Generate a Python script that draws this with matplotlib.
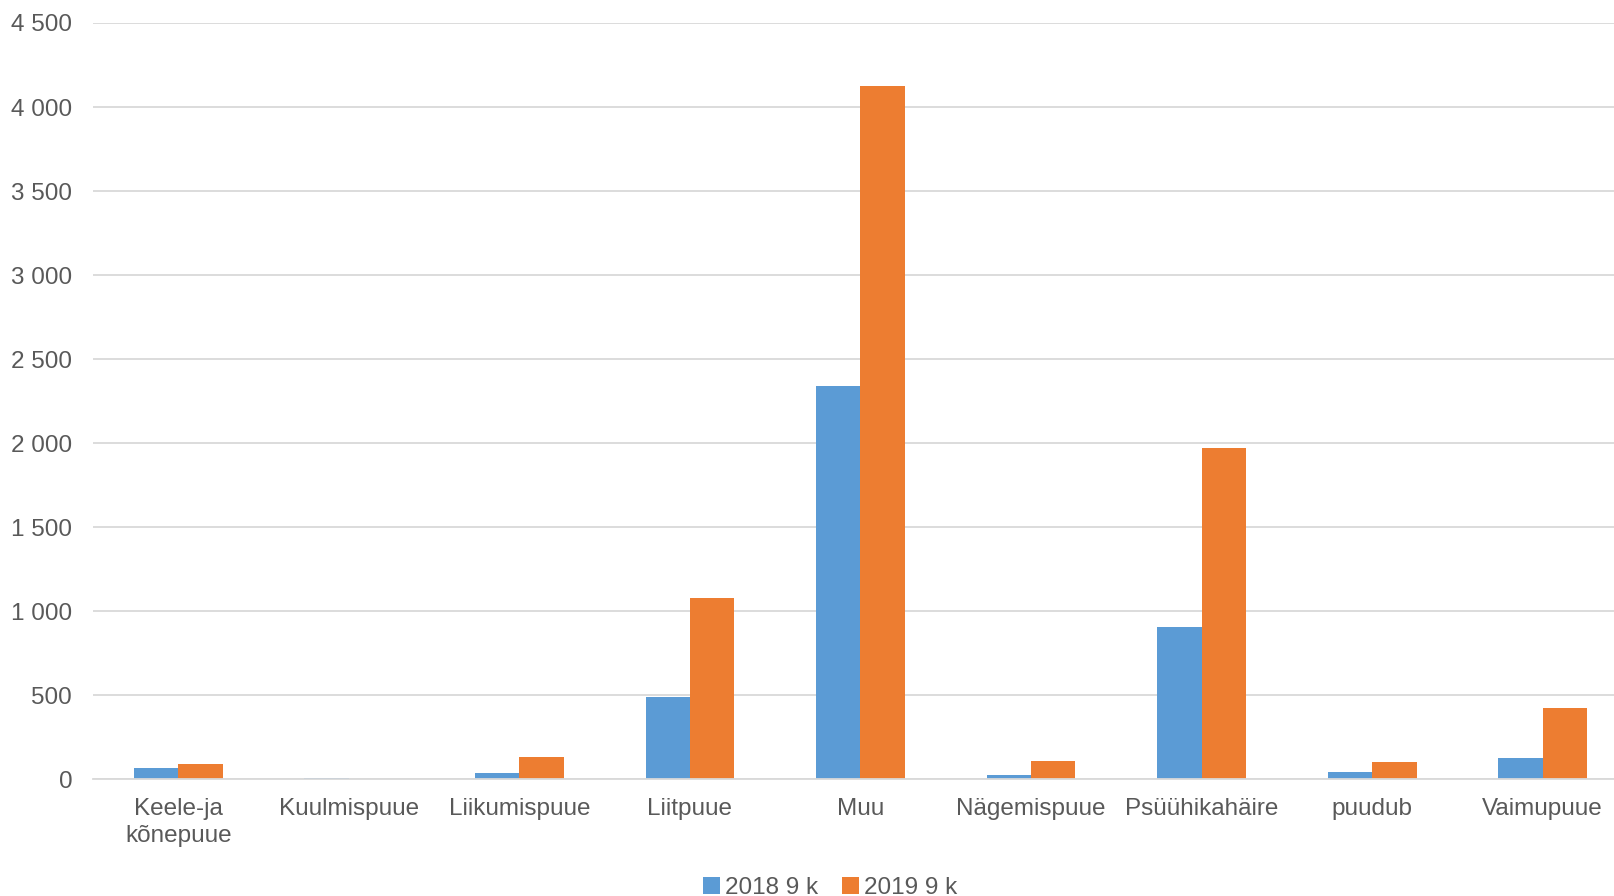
import matplotlib
matplotlib.use("Agg")
import matplotlib.pyplot as plt
import numpy as np
from matplotlib.ticker import FuncFormatter

categories = ["Keele-ja\nkõnepuue", "Kuulmispuue", "Liikumispuue", "Liitpuue", "Muu",
              "Nägemispuue", "Psüühikahäire", "puudub", "Vaimupuue"]
series_names = ["2018 9 k", "2019 9 k"]
values_2018 = [65, 4, 36, 490, 2342, 26, 907, 43, 127]
values_2019 = [91, 1, 133, 1079, 4126, 109, 1968, 103, 423]
colors = ["#5B9BD5", "#ED7D31"]

plt.rcParams['font.family'] = ['Liberation Sans', 'DejaVu Sans']

W, H = 1615, 896
fig = plt.figure(figsize=(W/100, H/100), dpi=100)
left_px, right_px = 93, 1628
ax = fig.add_axes([left_px/W, 1 - 779/H, (right_px - left_px)/W, (779 - 23)/H])

x = np.arange(len(categories))
w = 0.26
ax.bar(x - w/2, values_2018, w, color=colors[0], label=series_names[0], zorder=3)
ax.bar(x + w/2, values_2019, w, color=colors[1], label=series_names[1], zorder=3)

ax.set_xlim(-0.5, len(categories) - 0.5)
ax.set_ylim(0, 4500)
ax.set_yticks(np.arange(0, 4501, 500))
ax.yaxis.set_major_formatter(FuncFormatter(lambda v, p: f"{int(v):,}".replace(",", " ")))
ax.grid(axis='y', color='#D9D9D9', linewidth=1.3, zorder=0)
for s in ['top', 'right', 'left']:
    ax.spines[s].set_visible(False)
ax.spines['bottom'].set_color('#D9D9D9')
ax.spines['bottom'].set_linewidth(1.3)
ax.spines['bottom'].set_zorder(4)
ax.tick_params(axis='both', length=0, labelsize=17.5, colors='#595959')
ax.tick_params(axis='y', pad=15)
ax.tick_params(axis='x', pad=14)
ax.set_xticks(x)
ax.set_xticklabels(categories, linespacing=1.25)

leg = fig.legend(loc='center', bbox_to_anchor=(830/W, 1 - 888/H), ncol=2, frameon=False,
                 fontsize=17.5, handlelength=0.7, handleheight=0.7, handletextpad=0.2,
                 columnspacing=1.0)
for t in leg.get_texts():
    t.set_color('#595959')

fig.savefig("out.png", dpi=100)
